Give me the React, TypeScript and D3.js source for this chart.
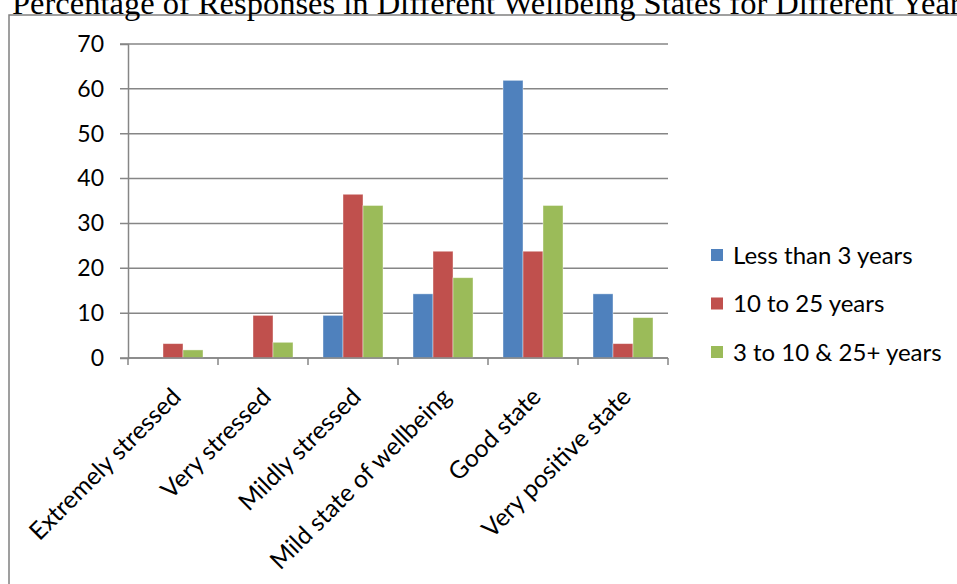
import React, { useRef, useEffect } from "react";
import * as d3 from "d3";

const categories = [
  "Extremely stressed",
  "Very stressed",
  "Mildly stressed",
  "Mild state of wellbeing",
  "Good state",
  "Very positive state",
];
const seriesNames = ["Less than 3 years", "10 to 25 years", "3 to 10 & 25+ years"];
const lessThan3 = [0, 0, 9.5, 14.3, 61.9, 14.3];
const tenTo25 = [3.2, 9.5, 36.5, 23.8, 23.8, 3.2];
const threeTo10And25Plus = [1.8, 3.5, 34, 17.9, 34, 9];
const yTicks = [0, 10, 20, 30, 40, 50, 60, 70];
const colors = ["#4f81bd", "#c0504d", "#9bbb59"];

const W = 957;
const H = 584;

const App = () => {
  const svgRef = useRef<SVGSVGElement>(null);

  useEffect(() => {
    const svg = d3.select(svgRef.current);
    svg.selectAll("*").remove();

    const values = [lessThan3, tenTo25, threeTo10And25Plus];
    const margin = { left: 128, right: 289, top: 44, bottom: 226 };

    const x0 = d3.scaleBand().domain(categories).range([margin.left, W - margin.right]);
    const x1 = d3
      .scaleBand()
      .domain(seriesNames)
      .range([0, x0.bandwidth()])
      .paddingOuter(0.75)
      .paddingInner(0);
    const y = d3.scaleLinear().domain([0, 70]).range([H - margin.bottom, margin.top]);

    // outer frame (top + left edge)
    svg.append("path")
      .attr("d", `M9,${H} V15 H${W}`)
      .attr("fill", "none")
      .attr("stroke", "#808080")
      .attr("stroke-width", 1.5);

    // title, partly clipped like the source image
    svg.append("text")
      .attr("x", 12)
      .attr("y", 14)
      .attr("font-family", "Liberation Serif, serif")
      .attr("font-size", 32.5)
      .attr("fill", "#000")
      .text("Percentage of Responses in Different Wellbeing States for Different Years");

    // gridlines
    svg.append("g")
      .selectAll("line")
      .data(yTicks)
      .enter()
      .append("line")
      .attr("x1", margin.left - 8)
      .attr("x2", W - margin.right)
      .attr("y1", d => y(d))
      .attr("y2", d => y(d))
      .attr("stroke", "#868686")
      .attr("stroke-width", 1.5);

    // y axis
    const yAxis = svg.append("g")
      .attr("transform", `translate(${margin.left},0)`)
      .call(d3.axisLeft(y).tickValues(yTicks).tickSize(8).tickPadding(10));
    yAxis.select(".domain").attr("stroke", "#868686").attr("stroke-width", 1.5);
    yAxis.selectAll(".tick line").remove();
    yAxis.selectAll("text")
      .attr("font-family", "Lato, sans-serif")
      .attr("font-size", 23)
      .attr("fill", "#000")
      .attr("dx", -6);

    // bars
    categories.forEach((c, ci) => {
      svg.append("g")
        .selectAll("rect")
        .data(seriesNames.map((s, si) => ({ s, si, v: values[si][ci] })))
        .enter()
        .append("rect")
        .attr("x", d => x0(c)! + x1(d.s)!)
        .attr("y", d => y(d.v))
        .attr("width", x1.bandwidth())
        .attr("height", d => y(0) - y(d.v))
        .attr("fill", d => colors[d.si])
        .attr("stroke", "#fff")
        .attr("stroke-opacity", 0.5)
        .attr("stroke-width", 0.8);
    });

    // x axis
    const xAxisY = y(0);
    svg.append("line")
      .attr("x1", margin.left)
      .attr("x2", W - margin.right)
      .attr("y1", xAxisY)
      .attr("y2", xAxisY)
      .attr("stroke", "#868686")
      .attr("stroke-width", 1.5);
    const edges = categories.map(c => x0(c)!).concat([W - margin.right]);
    svg.append("g")
      .selectAll("line")
      .data(edges)
      .enter()
      .append("line")
      .attr("x1", d => d)
      .attr("x2", d => d)
      .attr("y1", xAxisY)
      .attr("y2", xAxisY + 7)
      .attr("stroke", "#868686")
      .attr("stroke-width", 1.5);

    svg.append("g")
      .selectAll("text")
      .data(categories)
      .enter()
      .append("text")
      .attr("transform", d => `translate(${x0(d)! + x0.bandwidth() / 2 - 3},${xAxisY + 28}) rotate(-45)`)
      .attr("text-anchor", "end")
      .attr("dy", "0.72em")
      .attr("font-family", "Lato, sans-serif")
      .attr("font-size", 24.5)
      .attr("fill", "#000")
      .text(d => d);

    // legend
    const legend = svg.append("g").attr("transform", "translate(711,255)");
    seriesNames.forEach((s, i) => {
      const g = legend.append("g").attr("transform", `translate(0,${i * 48.5})`);
      g.append("rect").attr("x", 0).attr("y", -6).attr("width", 12).attr("height", 12).attr("fill", colors[i]);
      g.append("text")
        .attr("x", 22)
        .attr("y", 0)
        .attr("dy", "0.36em")
        .attr("font-family", "Lato, sans-serif")
        .attr("font-size", 24)
        .attr("fill", "#000")
        .text(s);
    });
  }, []);

  return (
    <svg
      ref={svgRef}
      width={W}
      height={H}
      style={{ position: "absolute", left: 0, top: 0, background: "#fff" }}
    ></svg>
  );
};

export default App;
